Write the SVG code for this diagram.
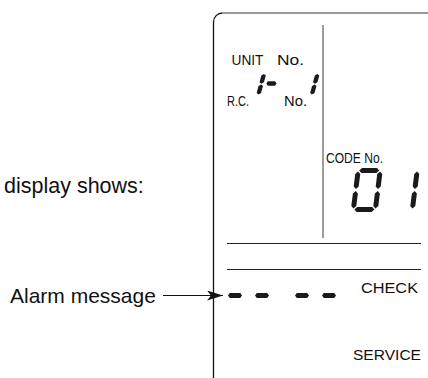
<svg xmlns="http://www.w3.org/2000/svg" width="428" height="378" viewBox="0 0 428 378">
<style>
  .t { font-family: "Liberation Sans", Arial, sans-serif; fill: #111; }
  .seg { fill: #1a1a1a; }
  .ln { stroke: #222; stroke-width: 1; fill: none; }
</style>
<defs>
  <!-- large 7-seg segments: H=44, W=27, t=5 -->
  <polygon id="Ltop" points="3.5,2.5 6,0 21,0 23.5,2.5 21,5 6,5"/>
  <polygon id="Lbot" points="3.5,41.5 6,39 21,39 23.5,41.5 21,44 6,44"/>
  <polygon id="LUL" points="2.5,3.5 5,6 5,18.5 2.5,21 0,18.5 0,6"/>
  <polygon id="LLL" points="2.5,23 5,25.5 5,38 2.5,40.5 0,38 0,25.5"/>
  <polygon id="LUR" points="24.5,3.5 27,6 27,18.5 24.5,21 22,18.5 22,6"/>
  <polygon id="LLR" points="24.5,23 27,25.5 27,38 24.5,40.5 22,38 22,25.5"/>
  <!-- small 7-seg segments: H=24, W=13.2, t=4.4 -->
  <polygon id="SUR" points="11,2 13.2,3.5 13.2,10.3 11,11.8 8.8,10.3 8.8,3.5"/>
  <polygon id="SLR" points="11,12.6 13.2,14.1 13.2,21 11,22.5 8.8,21 8.8,14.1"/>
  <polygon id="dash" points="0,0 1.8,-2.5 12.2,-2.5 14,0 12.2,2.5 1.8,2.5"/>
  <marker id="ah" viewBox="0 0 16 10" refX="16" refY="5" markerWidth="16" markerHeight="10" markerUnits="userSpaceOnUse" orient="auto">
    <path d="M0,0 L16,5 L0,10 L4,5 Z" fill="#111"/>
  </marker>
</defs>

<g id="panel">
  <path d="M213.5,378 V22 A9,9 0 0 1 222.5,13" stroke="#111" stroke-width="1.3" fill="none"/>
  <path d="M222.5,13 H428" stroke="#777" stroke-width="1.3" fill="none"/>
  <path d="M323,25 V238" stroke="#666" stroke-width="1.3" fill="none"/>
  <path class="ln" d="M227,243.5 H421"/>
  <path class="ln" d="M227,269.5 H421"/>
</g>

<g id="unit-display">
  <text class="t" x="231.5" y="65" font-size="15.5" textLength="32" lengthAdjust="spacingAndGlyphs">UNIT</text>
  <text class="t" x="277" y="65" font-size="15.5" textLength="27" lengthAdjust="spacingAndGlyphs">No.</text>
  <text class="t" x="227" y="106" font-size="15.5" textLength="22" lengthAdjust="spacingAndGlyphs">R.C.</text>
  <text class="t" x="284" y="106" font-size="15.5" textLength="23" lengthAdjust="spacingAndGlyphs">No.</text>
  <g class="seg" transform="translate(253.5,72) skewX(-15)">
    <use href="#SUR"/><use href="#SLR"/>
  </g>
  <polygon class="seg" points="266.3,83.5 267.8,81.3 275,81.3 276.5,83.5 275,85.7 267.8,85.7"/>
  <g class="seg" transform="translate(307,72) skewX(-15)">
    <use href="#SUR"/><use href="#SLR"/>
  </g>
</g>

<g id="code-display">
  <text class="t" x="326" y="163" font-size="14" textLength="57" lengthAdjust="spacingAndGlyphs">CODE No.</text>
  <g class="seg" transform="translate(356,168) skewX(-7)">
    <use href="#Ltop"/><use href="#Lbot"/><use href="#LUL"/><use href="#LLL"/><use href="#LUR"/><use href="#LLR"/>
  </g>
  <g class="seg" transform="translate(393,168) skewX(-7)">
    <use href="#LUR"/><use href="#LLR"/>
  </g>
</g>

<g id="check-area">
  <text class="t" x="361" y="293" font-size="15.5" textLength="57" lengthAdjust="spacingAndGlyphs">CHECK</text>
  <g class="seg">
    <use href="#dash" x="228" y="295.5"/>
    <use href="#dash" x="255" y="295.5"/>
    <use href="#dash" x="295" y="295.5"/>
    <use href="#dash" x="322" y="295.5"/>
  </g>
  <text class="t" x="353" y="359.5" font-size="15.5" textLength="68" lengthAdjust="spacingAndGlyphs">SERVICE</text>
</g>

<g id="labels">
  <text class="t" x="4" y="193" font-size="21.5">display shows:</text>
  <text class="t" x="10" y="303" font-size="21">Alarm message</text>
</g>

<g id="connectors">
  <path d="M163,295.5 H223" stroke="#111" stroke-width="1" fill="none" marker-end="url(#ah)"/>
</g>
</svg>
